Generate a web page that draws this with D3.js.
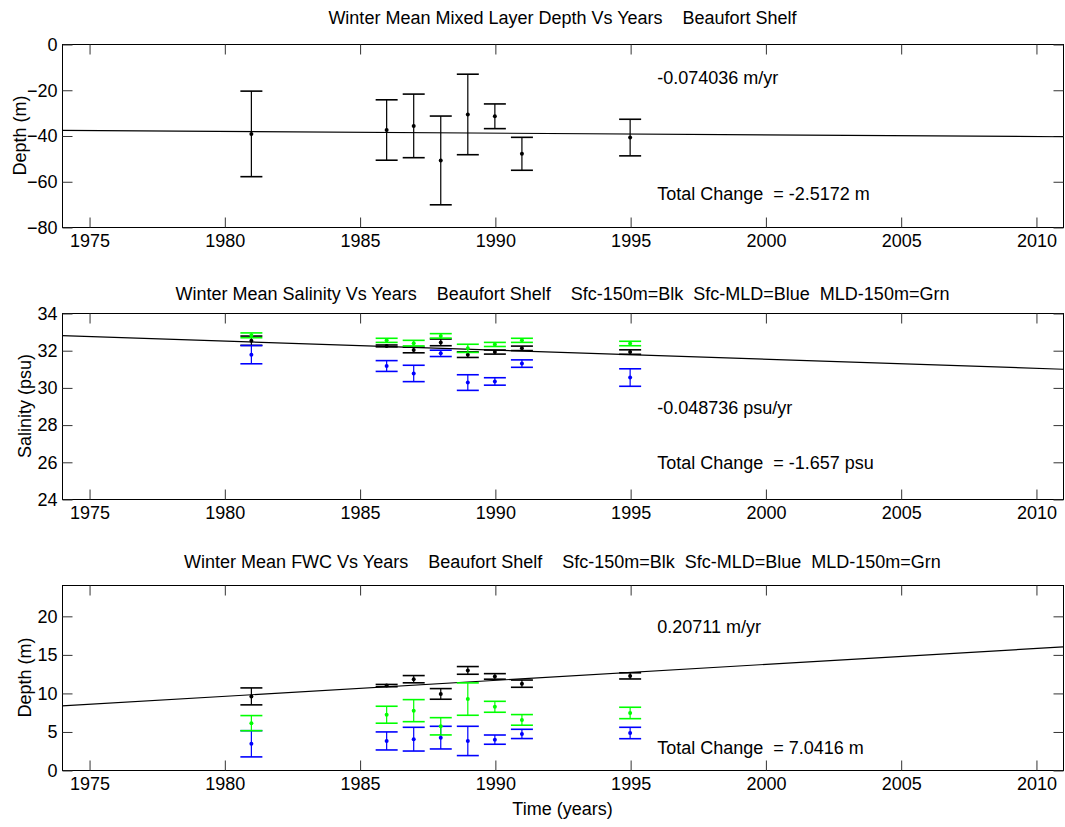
<!DOCTYPE html>
<html>
<head>
<meta charset="utf-8">
<script src="https://cdn.jsdelivr.net/npm/d3@7"></script>
<style>
  body { margin: 0; background: white; }
  svg text { font-family: "Liberation Sans", Arial, sans-serif; fill: black; white-space: pre; }
</style>
</head>
<body>
<svg width="1065" height="827"></svg>
<script>
// survey years
const years = [1981, 1986, 1987, 1988, 1989, 1990, 1991, 1995];
const xTicks = [1975, 1980, 1985, 1990, 1995, 2000, 2005, 2010];

// mixed layer depth (m)
const mldMean = [-39.3, -37.6, -35.8, -50.9, -30.8, -31.6, -48.0, -40.9];
const mldErr = [18.7, 13.2, 13.9, 19.4, 17.6, 5.4, 7.2, 8.0];

// salinity (psu)
const salBlkMean = [32.51, 32.23, 32.01, 32.42, 31.76, 31.90, 32.10, 31.90];
const salBlkErr = [0.25, 0.05, 0.15, 0.18, 0.15, 0.11, 0.12, 0.12];
const salBluMean = [31.76, 31.15, 30.75, 31.83, 30.26, 30.32, 31.28, 30.53];
const salBluErr = [0.49, 0.29, 0.44, 0.17, 0.42, 0.20, 0.20, 0.47];
const salGrnMean = [32.80, 32.53, 32.38, 32.77, 32.10, 32.31, 32.53, 32.36];
const salGrnErr = [0.13, 0.11, 0.15, 0.12, 0.22, 0.11, 0.11, 0.12];

// freshwater content (m)
const fwcBlkMean = [9.55, 10.95, 11.78, 9.87, 12.92, 12.14, 11.20, 12.21];
const fwcBlkErr = [1.1, 0.15, 0.47, 0.69, 0.5, 0.36, 0.47, 0.4];
const fwcBluMean = [3.4, 3.77, 4.0, 4.2, 3.77, 3.94, 4.68, 4.8];
const fwcBluErr = [1.7, 1.17, 1.54, 1.47, 1.9, 0.6, 0.6, 0.74];
const fwcGrnMean = [6.08, 7.17, 7.7, 5.67, 9.2, 8.2, 6.5, 7.4];
const fwcGrnErr = [0.98, 1.1, 1.43, 1.12, 2.1, 0.71, 0.69, 0.74];

// linear trends (value at 1974, slope per year)
const mldTrend = { start: -37.8, slope: -0.074036 };
const salTrend = { start: 32.78, slope: -0.048736 };
const fwcTrend = { start: 8.31, slope: 0.20711 };

const svg = d3.select("svg");
const left = 62, right = 1063;
const x = d3.scaleLinear().domain([1974, 2011]).range([left, right]);
const capHalf = 11;
const tickLen = 10;
const fs = 18;

const panels = [
  {
    top: 44, bottom: 227, domain: [-80, 0], ticks: [-80, -60, -40, -20, 0],
    ylabel: "Depth (m)", ylabelX: 20,
    title: "Winter Mean Mixed Layer Depth Vs Years    Beaufort Shelf", titleY: 24,
    trend: mldTrend,
    series: [{ mean: mldMean, err: mldErr, color: "black" }],
    notes: [
      { text: "-0.074036 m/yr", y: 84 },
      { text: "Total Change  = -2.5172 m", y: 200 }
    ]
  },
  {
    top: 313, bottom: 499, domain: [24, 34], ticks: [24, 26, 28, 30, 32, 34],
    ylabel: "Salinity (psu)", ylabelX: 25,
    title: "Winter Mean Salinity Vs Years    Beaufort Shelf    Sfc-150m=Blk  Sfc-MLD=Blue  MLD-150m=Grn", titleY: 300,
    trend: salTrend,
    series: [
      { mean: salBlkMean, err: salBlkErr, color: "black" },
      { mean: salBluMean, err: salBluErr, color: "#0000ff" },
      { mean: salGrnMean, err: salGrnErr, color: "#00ff00" }
    ],
    notes: [
      { text: "-0.048736 psu/yr", y: 414 },
      { text: "Total Change  = -1.657 psu", y: 469 }
    ]
  },
  {
    top: 585, bottom: 770, domain: [0, 24], ticks: [0, 5, 10, 15, 20],
    ylabel: "Depth (m)", ylabelX: 25,
    title: "Winter Mean FWC Vs Years    Beaufort Shelf    Sfc-150m=Blk  Sfc-MLD=Blue  MLD-150m=Grn", titleY: 568,
    trend: fwcTrend,
    series: [
      { mean: fwcBlkMean, err: fwcBlkErr, color: "black" },
      { mean: fwcBluMean, err: fwcBluErr, color: "#0000ff" },
      { mean: fwcGrnMean, err: fwcGrnErr, color: "#00ff00" }
    ],
    notes: [
      { text: "0.20711 m/yr", y: 633 },
      { text: "Total Change  = 7.0416 m", y: 754 }
    ]
  }
];

panels.forEach((p) => {
  const y = d3.scaleLinear().domain(p.domain).range([p.bottom, p.top]);
  const g = svg.append("g");

  // box
  g.append("rect")
    .attr("x", left + 0.5).attr("y", p.top + 0.5)
    .attr("width", right - left).attr("height", p.bottom - p.top)
    .attr("fill", "none").attr("stroke", "black");

  // ticks point inward on all four sides, labels on bottom and left
  const xb = g.append("g").attr("transform", `translate(0.5,${p.bottom + 0.5})`)
    .call(d3.axisBottom(x).tickValues(xTicks).tickFormat(d3.format("d")).tickSizeInner(-tickLen).tickSizeOuter(0).tickPadding(7));
  const xt = g.append("g").attr("transform", `translate(0.5,${p.top + 0.5})`)
    .call(d3.axisTop(x).tickValues(xTicks).tickFormat("").tickSizeInner(-tickLen).tickSizeOuter(0));
  const yl = g.append("g").attr("transform", `translate(${left + 0.5},0.5)`)
    .call(d3.axisLeft(y).tickValues(p.ticks).tickFormat(d3.format("d")).tickSizeInner(-tickLen).tickSizeOuter(0).tickPadding(5));
  const yr = g.append("g").attr("transform", `translate(${right + 0.5},0.5)`)
    .call(d3.axisRight(y).tickValues(p.ticks).tickFormat("").tickSizeInner(-tickLen).tickSizeOuter(0));
  [xb, xt, yl, yr].forEach((a) => {
    a.select(".domain").remove();
    a.selectAll("line").attr("stroke", "#333");
    a.selectAll("text").attr("font-size", fs).attr("fill", "black")
      .attr("font-family", "Liberation Sans, Arial, sans-serif");
  });

  // trend line
  const t0 = 1974, t1 = 2011;
  const trendPts = [t0, t1].map((t) => [t, p.trend.start + p.trend.slope * (t - t0)]);
  g.append("path")
    .attr("d", d3.line().x((d) => x(d[0])).y((d) => y(d[1]))(trendPts))
    .attr("fill", "none").attr("stroke", "black").attr("stroke-width", 1.2);

  // error bars
  p.series.forEach((s) => {
    const rows = years.map((yr, i) => ({ yr, m: s.mean[i], e: s.err[i] }));
    const eb = g.append("g").selectAll("g").data(rows).join("g");
    eb.append("line")
      .attr("x1", (d) => x(d.yr)).attr("x2", (d) => x(d.yr))
      .attr("y1", (d) => y(d.m - d.e)).attr("y2", (d) => y(d.m + d.e))
      .attr("stroke", s.color).attr("stroke-width", 1.2);
    [-1, 1].forEach((sgn) => {
      eb.append("line")
        .attr("x1", (d) => x(d.yr) - capHalf).attr("x2", (d) => x(d.yr) + capHalf)
        .attr("y1", (d) => y(d.m + sgn * d.e)).attr("y2", (d) => y(d.m + sgn * d.e))
        .attr("stroke", s.color).attr("stroke-width", 1.6);
    });
    eb.append("circle")
      .attr("cx", (d) => x(d.yr)).attr("cy", (d) => y(d.m))
      .attr("r", 2).attr("fill", s.color);
  });

  // title
  svg.append("text")
    .attr("x", (left + right) / 2).attr("y", p.titleY)
    .attr("text-anchor", "middle").attr("font-size", fs)
    .text(p.title);

  // y label
  svg.append("text")
    .attr("transform", `translate(${p.ylabelX},${(p.top + p.bottom) / 2}) rotate(-90)`)
    .attr("text-anchor", "middle").attr("dominant-baseline", "central")
    .attr("font-size", fs)
    .text(p.ylabel);

  // annotations
  g.selectAll("text.note").data(p.notes).join("text")
    .attr("class", "note")
    .attr("x", x(1996)).attr("y", (d) => d.y)
    .attr("font-size", fs)
    .text((d) => d.text);
});

svg.append("text")
  .attr("x", (left + right) / 2).attr("y", 815)
  .attr("text-anchor", "middle").attr("font-size", fs)
  .text("Time (years)");
</script>
</body>
</html>
